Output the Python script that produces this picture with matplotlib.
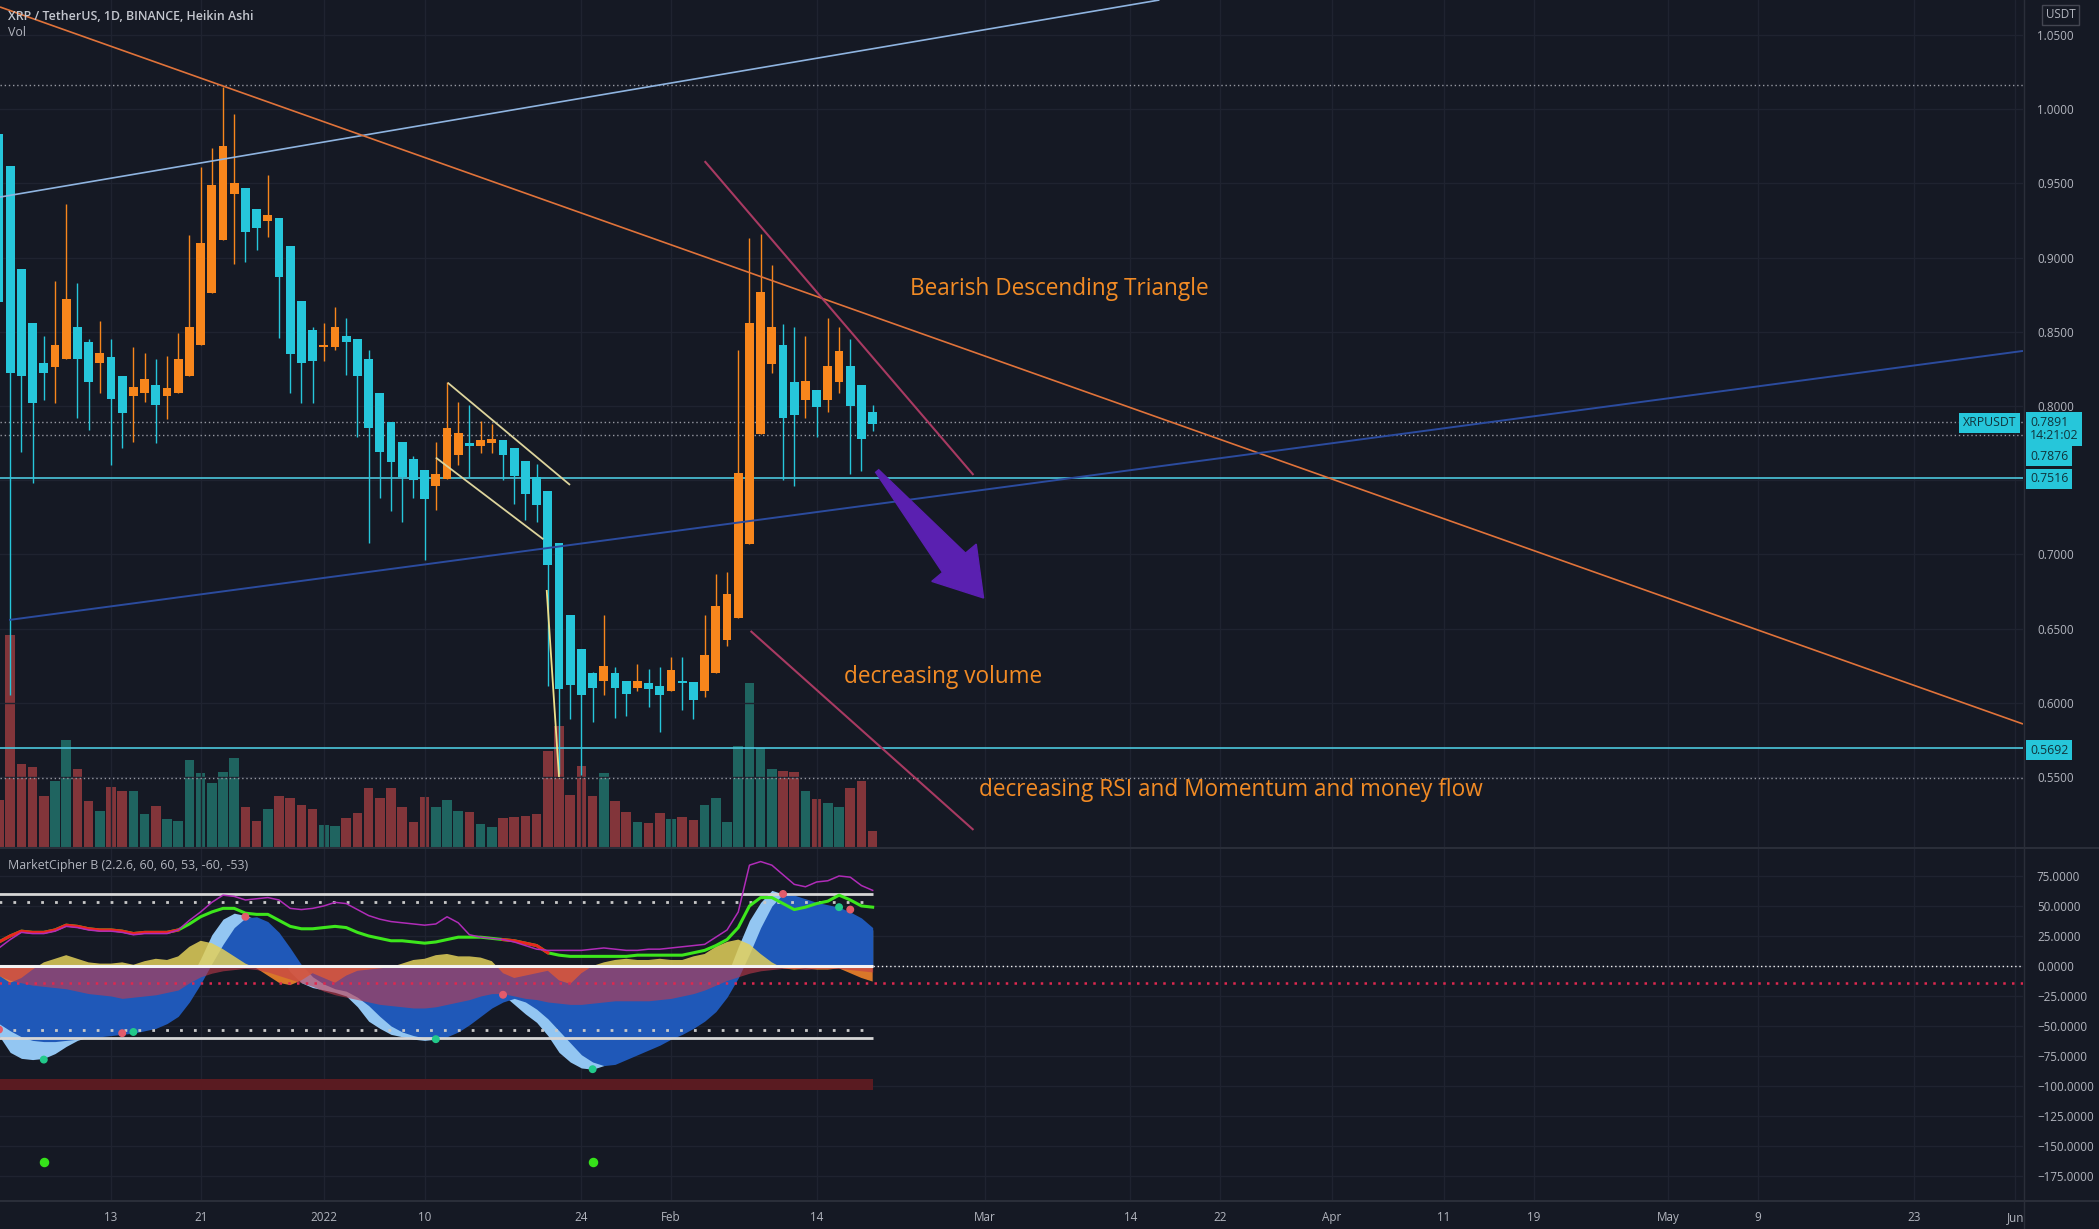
import numpy as np
import matplotlib
matplotlib.use('Agg')
import matplotlib.pyplot as plt
from matplotlib.patches import Polygon
from matplotlib.lines import Line2D
from matplotlib.transforms import IdentityTransform

plt.rcParams['font.family'] = ['Open Sans', 'DejaVu Sans']

BG = '#151924'
GRID = '#1f2330'
TXT = '#b2b5be'
UP = '#f7861c'
DOWN = '#26c6da'
VOL_UP = '#1f6460'
VOL_DOWN = '#82353a'
NOTE = '#f28b25'
TAG = '#26c6da'

# ---- data (x = days since 13 Dec 2021) ----
days = np.arange(-10, 69)

ha_open = [0.983, 0.962, 0.892, 0.856, 0.829, 0.826, 0.832, 0.853, 0.843, 0.829,
           0.833, 0.820, 0.807, 0.809, 0.814, 0.807, 0.809, 0.820, 0.841, 0.876,
           0.912, 0.943, 0.947, 0.933, 0.925, 0.927, 0.908, 0.871, 0.851, 0.840,
           0.840, 0.847, 0.845, 0.832, 0.809, 0.789, 0.776, 0.764, 0.757, 0.746,
           0.751, 0.767, 0.775, 0.773, 0.775, 0.777, 0.772, 0.763, 0.752, 0.743,
           0.708, 0.659, 0.636, 0.620, 0.615, 0.620, 0.615, 0.610, 0.613, 0.611,
           0.608, 0.615, 0.614, 0.608, 0.620, 0.642, 0.657, 0.707, 0.781, 0.828,
           0.841, 0.816, 0.804, 0.811, 0.804, 0.816, 0.827, 0.814, 0.796]
ha_close = [0.870, 0.822, 0.820, 0.802, 0.822, 0.841, 0.872, 0.832, 0.816, 0.836,
            0.805, 0.795, 0.813, 0.818, 0.801, 0.812, 0.832, 0.853, 0.910, 0.949,
            0.975, 0.950, 0.917, 0.920, 0.929, 0.887, 0.835, 0.829, 0.830, 0.841,
            0.853, 0.843, 0.820, 0.785, 0.769, 0.762, 0.752, 0.750, 0.737, 0.754,
            0.785, 0.782, 0.773, 0.777, 0.778, 0.767, 0.753, 0.741, 0.733, 0.693,
            0.609, 0.612, 0.605, 0.610, 0.625, 0.610, 0.606, 0.615, 0.609, 0.605,
            0.622, 0.613, 0.602, 0.632, 0.665, 0.673, 0.755, 0.856, 0.877, 0.853,
            0.792, 0.794, 0.817, 0.799, 0.827, 0.837, 0.800, 0.778, 0.788]
ha_high = [0.983, 0.962, 0.892, 0.856, 0.847, 0.884, 0.936, 0.883, 0.845, 0.857,
           0.845, 0.820, 0.840, 0.836, 0.832, 0.834, 0.849, 0.915, 0.961, 0.974,
           1.015, 0.997, 0.947, 0.933, 0.956, 0.927, 0.908, 0.871, 0.853, 0.856,
           0.867, 0.859, 0.845, 0.838, 0.809, 0.789, 0.776, 0.766, 0.757, 0.776,
           0.816, 0.803, 0.801, 0.790, 0.788, 0.777, 0.772, 0.763, 0.761, 0.743,
           0.708, 0.659, 0.636, 0.621, 0.659, 0.624, 0.615, 0.626, 0.623, 0.624,
           0.631, 0.631, 0.614, 0.659, 0.687, 0.688, 0.838, 0.913, 0.916, 0.895,
           0.855, 0.853, 0.847, 0.811, 0.859, 0.853, 0.845, 0.814, 0.801]
ha_low = [0.860, 0.605, 0.769, 0.748, 0.804, 0.802, 0.832, 0.792, 0.784, 0.809,
          0.760, 0.772, 0.776, 0.803, 0.775, 0.791, 0.809, 0.820, 0.841, 0.876,
          0.912, 0.896, 0.897, 0.905, 0.914, 0.846, 0.809, 0.802, 0.802, 0.830,
          0.838, 0.821, 0.779, 0.708, 0.738, 0.729, 0.722, 0.738, 0.696, 0.730,
          0.751, 0.760, 0.752, 0.768, 0.768, 0.750, 0.734, 0.723, 0.722, 0.611,
          0.552, 0.589, 0.551, 0.587, 0.605, 0.590, 0.591, 0.608, 0.597, 0.580,
          0.608, 0.595, 0.589, 0.604, 0.620, 0.638, 0.657, 0.707, 0.781, 0.822,
          0.750, 0.746, 0.792, 0.779, 0.796, 0.809, 0.754, 0.756, 0.783]

volume = [47, 212, 83, 80, 51, 66, 107, 78, 46, 36,
          60, 56, 56, 33, 41, 28, 26, 87, 74, 64,
          75, 89, 40, 26, 38, 51, 49, 42, 38, 22,
          21, 29, 34, 59, 49, 59, 40, 25, 50, 40,
          47, 36, 35, 23, 20, 29, 30, 31, 33, 96,
          121, 52, 81, 51, 74, 46, 35, 25, 24, 34,
          28, 30, 27, 42, 49, 25, 101, 164, 99, 78,
          76, 75, 56, 48, 44, 40, 59, 66, 16]
vol_up = [0, 0, 0, 0, 0, 1, 1, 0, 0, 1,
          0, 0, 1, 1, 0, 1, 1, 1, 1, 1,
          1, 1, 0, 0, 1, 0, 0, 0, 0, 1,
          1, 0, 0, 0, 0, 0, 0, 0, 0, 1,
          1, 1, 0, 1, 1, 0, 0, 0, 0, 0,
          0, 0, 0, 0, 1, 0, 0, 1, 0, 0,
          1, 0, 0, 1, 1, 1, 1, 1, 1, 1,
          0, 0, 1, 0, 1, 1, 0, 0, 0]

# MarketCipher B components
wt1 = [-58, -72, -77, -78, -77, -73, -67, -62, -59, -57,
       -56, -55, -55, -53, -50, -43, -34, -12, 6, 26,
       39, 44, 42, 39, 27, 10, -5, -14, -18, -20,
       -22, -25, -34, -46, -52, -57, -59, -61, -62, -61,
       -53, -47, -39, -32, -27, -24, -32, -40, -47, -58,
       -72, -80, -85, -86, -83, -78, -72, -68, -64, -59,
       -55, -50, -44, -36, -27, -8, 16, 38, 53, 63,
       60, 55, 52, 50, 48, 47, 44, 38, 30]
wt2 = [-48, -54, -59, -62, -63, -63, -62, -61, -60, -59,
       -58, -57, -56, -54, -52, -48, -42, -30, -15, 2,
       18, 32, 40, 41, 37, 28, 15, 1, -9, -15,
       -19, -21, -26, -33, -42, -50, -55, -58, -60, -61,
       -59, -55, -49, -42, -35, -30, -27, -30, -36, -44,
       -54, -64, -74, -80, -83, -82, -78, -74, -70, -66,
       -61, -57, -52, -46, -38, -26, -10, 10, 32, 50,
       60, 59, 56, 53, 51, 49, 45, 40, 32]
money_flow = [-8, -12, -14, -16, -17, -18, -19, -21, -23, -24,
              -25, -27, -26, -25, -24, -22, -20, -14, -9, -6,
              -4, -3, -2, -3, -5, -8, -11, -14, -17, -21,
              -24, -26, -28, -30, -32, -33, -34, -35, -35, -34,
              -32, -30, -28, -25, -23, -23, -25, -27, -28, -30,
              -31, -32, -32, -31, -30, -29, -29, -29, -29, -28,
              -27, -25, -23, -20, -16, -12, -9, -6, -4, -3,
              -2, -2, -3, -2, -2, -2, -3, -4, -5]
vwap = [-8, -14, -10, -3, 3, 6, 9, 6, 3, 2,
        2, 3, 1, 4, 6, 5, 8, 16, 21, 19,
        14, 8, 2, -2, -8, -14, -16, -12, -6, -10,
        -14, -8, -4, -3, -2, -1, 2, 5, 6, 9,
        10, 8, 8, 7, 4, -6, -10, -8, -6, -4,
        -12, -15, -6, 0, 3, 5, 6, 5, 5, 6,
        5, 5, 8, 10, 16, 20, 22, 18, 10, 3,
        -2, -3, -2, -3, -3, -2, -6, -10, -13]
rsi_line = [20, 25, 29, 28, 28, 30, 34, 33, 31, 30,
            30, 29, 27, 28, 28, 28, 30, 35, 41, 45,
            48, 48, 44, 43, 43, 38, 33, 31, 31, 32,
            33, 32, 28, 25, 23, 21, 21, 20, 19, 20,
            22, 24, 24, 24, 23, 22, 21, 19, 17, 11,
            9, 8, 8, 8, 8, 8, 8, 9, 9, 9,
            9, 9, 11, 13, 17, 22, 32, 50, 57, 57,
            52, 47, 49, 52, 54, 59, 55, 50, 49]
rsi_red_ranges = [(-10, 6), (35, 39)]
stoch_line = [15, 22, 28, 27, 27, 29, 33, 32, 30, 29,
              29, 28, 26, 27, 27, 27, 30, 38, 45, 53,
              59, 58, 55, 56, 57, 55, 48, 47, 48, 50,
              53, 52, 47, 42, 39, 37, 36, 35, 34, 35,
              41, 36, 26, 24, 23, 22, 20, 17, 14, 13,
              13, 13, 13, 14, 15, 14, 13, 13, 14, 14,
              15, 16, 17, 18, 24, 30, 45, 84, 87, 84,
              76, 68, 66, 70, 71, 75, 74, 67, 63]
cross_days = [-10, -6, 1, 2, 12, 29, 35, 43, 60, 65, 66]
cross_vals = [-53, -78, -56, -55, 41, -61, -24, -86, 60, 49, 47]
cross_up = [0, 1, 0, 1, 0, 1, 0, 1, 0, 1, 0]
signal_days = [-6, 43]
signal_level = -163

# drawings
h_levels_solid = [0.7516, 0.5692]
h_levels_dotted = [1.0163, 0.7891, 0.7803, 0.549]
trendlines = [
    ((-9.91, 0.9408), (93.6, 1.0736), '#8fb4e0', 1.2),
    ((-9.91, 1.0689), (170.7, 0.5857), '#e0733a', 1.2),
    ((-9.1, 0.6558), (170.7, 0.8371), '#2b4b9e', 1.4),
    ((53.0, 0.965), (77.0, 0.7535), '#a83a62', 1.5),
    ((57.1, 0.6484), (77.0, 0.5143), '#a83a62', 1.5),
    ((30.06, 0.8157), (40.98, 0.7468), '#ddd49c', 1.3),
    ((29.0, 0.7652), (38.6, 0.7102), '#ddd49c', 1.3),
    ((38.9, 0.676), (40.0, 0.550), '#eee08a', 1.3),
]
arrow_start = (68.4, 0.7562)
arrow_end = (77.9, 0.6706)
notes = [(71.3, 0.8788, 'Bearish Descending Triangle'),
         (65.4, 0.6174, 'decreasing volume'),
         (77.5, 0.5412, 'decreasing RSI and Momentum and money flow')]

tick_days = [0, 8, 19, 28, 42, 50, 63, 78, 91, 99, 109, 119, 127, 139, 147, 161, 170]
tick_labels = ['13', '21', '2022', '10', '24', 'Feb', '14', 'Mar', '14', '22',
               'Apr', '11', '19', 'May', '9', '23', 'Jun']
# 0.7500 sits under the 0.7516 tag in the reference
price_ticks = [0.55, 0.60, 0.65, 0.70, 0.80, 0.85, 0.90, 0.95, 1.00, 1.05]
ind_ticks = [75, 50, 25, 0, -25, -50, -75, -100, -125, -150, -175]

# ---- layout ----
W, H = 2099, 1229


def fx(px):
    return px / W


def fy(py):
    return 1 - py / H


fig = plt.figure(figsize=(W / 100, H / 100), dpi=100, facecolor=BG)
rect_main = [0, fy(847), fx(2023), 847 / H]
ax_vol = fig.add_axes(rect_main)
ax = fig.add_axes(rect_main, sharex=ax_vol)
ax_ind = fig.add_axes([0, fy(1200), fx(2023), 352 / H], sharex=ax_vol)

for a in (ax_vol, ax, ax_ind):
    for s in a.spines.values():
        s.set_visible(False)
ax_vol.set_facecolor(BG)
ax.patch.set_alpha(0)
ax_ind.set_facecolor(BG)

ax.set_xlim(-9.91, 170.7)
ax.set_xticks(tick_days, labels=tick_labels)

# volume
ax_vol.bar(days, volume, width=0.86, color=[VOL_UP if u else VOL_DOWN for u in vol_up])
ax_vol.set_ylim(0, max(volume) / 0.25)
ax_vol.set_yticks([])
ax_vol.tick_params(axis='x', length=0, labelbottom=False)

# price pane
ax.set_ylim(0.5028, 1.0736)
ax.set_yticks(price_ticks)
ax.yaxis.tick_right()
ax.yaxis.set_major_formatter(lambda v, p: f'{v:.4f}')
ax.tick_params(axis='y', length=0, pad=10, labelsize=8.4, labelcolor=TXT)
ax.tick_params(axis='x', length=0, labelbottom=False)
ax.grid(True, color=GRID, lw=1)
ax.set_axisbelow(True)
ax.axhline(0.75, color=GRID, lw=1, zorder=0)

o = np.array(ha_open)
c = np.array(ha_close)
cols = np.where(c >= o, UP, DOWN)
ax.vlines(days, ha_low, ha_high, colors=cols, lw=1, zorder=3)
ax.bar(days, np.maximum(np.abs(c - o), 0.0012), bottom=np.minimum(o, c),
       width=0.78, color=cols, zorder=4)

for lv in h_levels_solid:
    ax.axhline(lv, color='#4cc6dc', lw=1.2, zorder=2)
for lv in h_levels_dotted:
    ax.axhline(lv, color='#9598a1', lw=1, ls=(0, (1, 2)), zorder=2)

for (x0, y0), (x1, y1), col, lw in trendlines:
    ax.plot([x0, x1], [y0, y1], color=col, lw=lw, zorder=5, solid_capstyle='butt')

for x, y, s in notes:
    ax.text(x, y, s, color=NOTE, fontsize=16.3, va='center', ha='left', zorder=7)

# purple arrow (built in pixel space so it keeps its shape)
p0 = ax.transData.transform(arrow_start)
p1 = ax.transData.transform(arrow_end)
d = (p1 - p0) / np.hypot(*(p1 - p0))
n = np.array([-d[1], d[0]])
base = p1 - d * 46
verts = [p0 + n * 2, base + n * 15, base + n * 29, p1, base - n * 29, base - n * 15, p0 - n * 2]
ax.add_patch(Polygon(verts, closed=True, transform=IdentityTransform(),
                     color='#5a20b0', zorder=6))

# ---- indicator pane ----
ax_ind.set_ylim(-195, 98.3)
ax_ind.set_yticks(ind_ticks)
ax_ind.yaxis.tick_right()
ax_ind.yaxis.set_major_formatter(lambda v, p: f'{v:.4f}'.replace('-', '\u2212'))
ax_ind.tick_params(axis='y', length=0, pad=10, labelsize=8.4, labelcolor=TXT)
ax_ind.tick_params(axis='x', length=0, pad=8, labelsize=8.4, labelcolor=TXT)
ax_ind.grid(True, color=GRID, lw=1)
ax_ind.set_axisbelow(True)

last = days[-1]
first = days[0]
ax_ind.fill_between([first - 0.5, last], -103, -94, color='#5a1b21', lw=0)
ax_ind.fill_between(days, 0, wt1, color='#93c6f2', lw=0)
ax_ind.fill_between(days, 0, wt2, color='#1f58b8', lw=0)
vw = np.array(vwap)
ax_ind.fill_between(days, 0, vw, where=vw >= 0, interpolate=True, color='#e2d05a', alpha=0.85, lw=0)
ax_ind.fill_between(days, 0, vw, where=vw < 0, interpolate=True, color='#f0822a', alpha=0.9, lw=0)
ax_ind.fill_between(days, 0, money_flow, color='#c23a4c', alpha=0.6, lw=0)

ax_ind.hlines([60, -60], first - 0.5, last, color='#d6d6d6', lw=2)
ax_ind.hlines([53, -53], first - 0.5, last, color='#c8c8c8', lw=2, ls=(0, (1, 4)))
ax_ind.hlines(0, first - 0.5, last, color='#f2f2f2', lw=2.2)
ax_ind.hlines(0, last, 171, color='#f2f2f2', lw=1, ls=(0, (1, 2)))
ax_ind.hlines(-14, first - 0.5, 171, color='#e0284f', lw=1.8, ls=(0, (1, 2.5)))

rsi = np.array(rsi_line)
ax_ind.plot(days, rsi, color='#3de61c', lw=2.2, zorder=4)
for a0, a1 in rsi_red_ranges:
    m = (days >= a0) & (days <= a1)
    ax_ind.plot(days[m], rsi[m], color='#e8261e', lw=2.2, zorder=4)
ax_ind.plot(days, stoch_line, color='#b02cb8', lw=1.1, zorder=4)

ax_ind.scatter(cross_days, cross_vals, s=22, zorder=5,
               color=['#22c98a' if u else '#e35b6b' for u in cross_up])
ax_ind.scatter(signal_days, [signal_level] * len(signal_days), s=34, color='#36e21a', zorder=5)

# ---- frame lines and labels ----
sep = '#2a2e39'
fig.add_artist(Line2D([0, 1], [fy(847.5)] * 2, color=sep, lw=1.5, transform=fig.transFigure))
fig.add_artist(Line2D([0, 1], [fy(1200.5)] * 2, color=sep, lw=1.5, transform=fig.transFigure))
fig.add_artist(Line2D([fx(2023.5)] * 2, [0, 1], color=sep, lw=1, transform=fig.transFigure))

fig.text(fx(8), fy(16), 'XRP / TetherUS, 1D, BINANCE, Heikin Ashi', fontsize=8.9,
         color='#c3c6ce', va='center', fontweight='semibold')
fig.text(fx(8), fy(33), 'Vol', fontsize=8.9, color=TXT, va='center')
fig.text(fx(8), fy(866), 'MarketCipher B (2.2.6, 60, 60, 53, -60, -53)', fontsize=8.9,
         color=TXT, va='center')


def tag(px, py, s, fc=TAG, tc='#10343c', ec='none', size=8.8):
    fig.text(fx(px), fy(py), s, ha='left', va='center', fontsize=size, color=tc,
             linespacing=1.0,
             bbox=dict(boxstyle='square,pad=0.32', fc=fc, ec=ec))


tag(2046, 15, 'USDT', fc=BG, tc=TXT, ec='#434651', size=8.4)
tag(1963, 423, 'XRPUSDT')
tag(2030, 429, '0.7891\n14:21:02')
tag(2030, 456, '0.7876')
tag(2030, 479, '0.7516')
tag(2030, 750, '0.5692')

fig.savefig('out.png', dpi=100, facecolor=BG)
